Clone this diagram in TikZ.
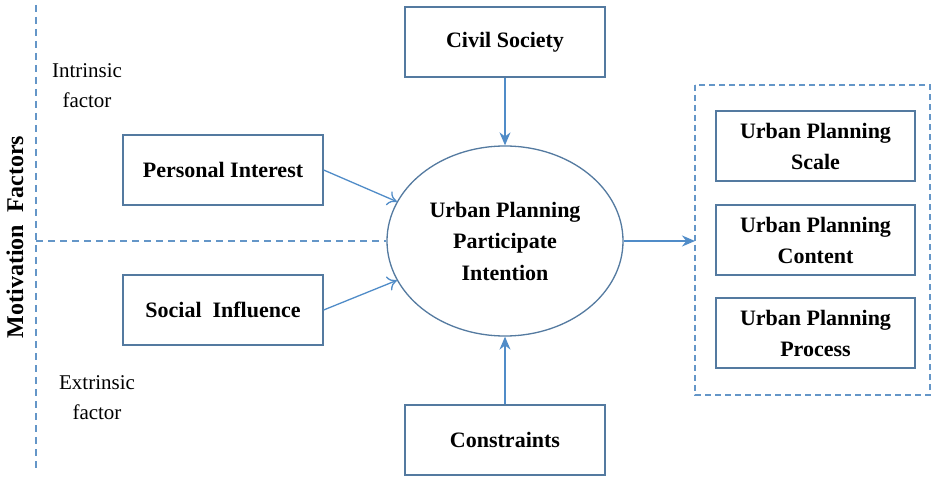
\documentclass[tikz,border=0pt]{standalone}
\usepackage{fontspec}
\setmainfont{Liberation Serif}
\usetikzlibrary{arrows.meta,shapes.geometric}
\definecolor{boxline}{RGB}{84,122,160}
\definecolor{arr}{RGB}{80,140,200}
\definecolor{dashc}{RGB}{100,150,200}
\begin{document}
\begin{tikzpicture}[x=1pt,y=-1pt,
  bx/.style={draw=boxline,line width=1.3pt,minimum width=200pt,minimum height=70pt,align=center,font=\bfseries\fontsize{22}{26}\selectfont,inner sep=0pt},
  ibx/.style={bx,minimum width=199pt,font=\bfseries\fontsize{22}{31}\selectfont},
  lab/.style={font=\fontsize{21}{30}\selectfont,align=center},
  con/.style={draw=arr,line width=1.3pt},
  dsh/.style={draw=dashc,line width=1.2pt,dash pattern=on 7pt off 5pt}]
\useasboundingbox (0,0) rectangle (937,478);
\fill[white] (0,0) rectangle (937,478);
\draw[dsh] (36,5) -- (36,470);
\node[ellipse,draw=boxline,line width=1.3pt,minimum width=236pt,minimum height=190pt,inner sep=0pt,font=\bfseries\fontsize{22}{31.5}\selectfont,align=center] (e) at (505,241) {Urban Planning\\Participate\\Intention};
\coordinate (hl) at (36,241);
\draw[dsh] (hl) -- (e.west);
\node[bx] (cs) at (505,42) {Civil Society};
\node[bx] (pi) at (223,170) {Personal Interest};
\node[bx] (si) at (223,310) {Social\ \ Influence};
\node[bx] (co) at (505,440) {Constraints};
\node[lab] (intr) at (87,86) {Intrinsic\\factor};
\node[lab] (extr) at (97,398) {Extrinsic\\factor};
\node[rotate=90,font=\bfseries\fontsize{24}{28}\selectfont] (mf) at (15,237) {Motivation\ \ Factors};
\draw[dsh,dash pattern=on 6pt off 4pt] (695,85) rectangle (930,395);
\coordinate (dbl) at (695,241);
\node[ibx] (s1) at (815.5,146) {Urban Planning\\Scale};
\node[ibx] (s2) at (815.5,240) {Urban Planning\\Content};
\node[ibx] (s3) at (815.5,333) {Urban Planning\\Process};
\draw[con,-{Stealth[length=13pt,width=11pt]}] (cs.south) -- (e.north);
\draw[con,-{Stealth[length=13pt,width=11pt]}] (co.north) -- (e.south);
\draw[con,-{Stealth[length=13pt,width=11pt]}] (e.east) -- (dbl);
\draw[con,-{To[length=9pt,width=15pt]}] (pi.east) -- (e.160);
\draw[con,-{To[length=9pt,width=15pt]}] (si.east) -- (e.200);
\end{tikzpicture}
\end{document}
